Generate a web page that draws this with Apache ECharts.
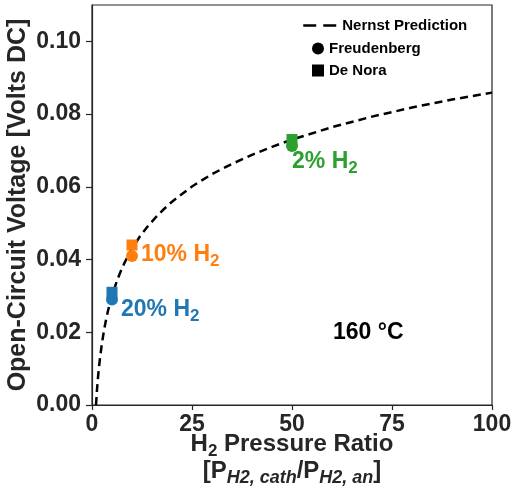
<!DOCTYPE html>
<html>
<head>
<meta charset="utf-8">
<script src="https://cdn.jsdelivr.net/npm/echarts@6/dist/echarts.min.js"></script>
<style>
  html, body { margin: 0; padding: 0; background: #fff; }
  #main { width: 511px; height: 495px; }
</style>
</head>
<body>
<div id="main"></div>
<script>
// Nernst prediction curve
const nernstX = [1, 1.25, 1.5, 1.75, 2, 2.5, 3, 3.5, 4, 4.5, 5, 6, 7, 8, 9, 10, 12, 14, 16, 18, 20,
  25, 30, 35, 40, 45, 50, 60, 70, 80, 90, 100];
const nernstY = [0, 0.0042, 0.0076, 0.0104, 0.0129, 0.0171, 0.0205, 0.0234, 0.0259, 0.0281, 0.0300,
  0.0334, 0.0363, 0.0388, 0.0410, 0.0430, 0.0464, 0.0492, 0.0517, 0.0539, 0.0559,
  0.0601, 0.0635, 0.0663, 0.0688, 0.0710, 0.0730, 0.0764, 0.0793, 0.0818, 0.0840, 0.0859];

// measured points
const ratios = [5, 10, 50];
const freudenberg = [0.029, 0.041, 0.0712];
const deNora = [0.031, 0.044, 0.073];
const pointColors = ['#1f77b4', '#ff7f0e', '#2ca02c'];
const pointLabels = ['20%', '10%', '2%'];

const textColor = '#262626';
const font = 'Liberation Sans, Arial, sans-serif';

const chart = echarts.init(document.getElementById('main'));

// label placement next to each point (offset in px)
const labelOffsets = [[-2, 10], [-2, -1], [-11, 16]];

function labelStyle(color) {
  return {
    t: { fontSize: 23, fontWeight: 'bold', fontFamily: font, color: color },
    s: { fontSize: 17, fontWeight: 'bold', fontFamily: font, color: color, padding: [13, 0, 0, 0] }
  };
}

chart.setOption({
  animation: false,
  grid: {
    left: 92, right: 19, top: 5, bottom: 90,
    outerBoundsMode: 'none',
    show: true, borderColor: textColor, borderWidth: 1.2, backgroundColor: 'transparent'
  },
  legend: [
    {
      top: 13,
      left: 297,
      itemWidth: 34,
      itemHeight: 14,
      itemGap: 5,
      itemTextGap: 12,
      textStyle: { fontSize: 15, fontWeight: 'bold', color: '#000', fontFamily: font },
      data: [{
        name: 'Nernst Prediction',
        itemStyle: { opacity: 0 },
        lineStyle: { type: [13, 7], width: 2.5 }
      }]
    },
    {
      orient: 'vertical',
      top: 36,
      left: 307,
      itemWidth: 12,
      itemHeight: 12,
      itemGap: 7,
      itemTextGap: 24,
      textStyle: { fontSize: 15, fontWeight: 'bold', color: '#000', fontFamily: font },
      data: [
        { name: 'Freudenberg', icon: 'circle' },
        { name: 'De Nora', icon: 'rect' }
      ]
    }
  ],
  xAxis: {
    type: 'value',
    min: 0, max: 100, interval: 25,
    splitLine: { show: false },
    axisLine: { lineStyle: { color: textColor, width: 1.2 } },
    axisTick: { show: true, length: 5, lineStyle: { color: textColor, width: 1.2 } },
    axisLabel: { fontSize: 23, fontWeight: 'bold', color: textColor, fontFamily: font, margin: 8 },
    name: '{t|H}{s|2}{t| Pressure Ratio}\n{t|[P}{si|H2, cath}{t|/P}{si|H2, an}{t|]}',
    nameLocation: 'middle',
    nameGap: 26,
    nameMoveOverlap: false,
    nameTextStyle: {
      color: textColor,
      lineHeight: 27,
      rich: {
        t: { fontSize: 24, fontWeight: 'bold', fontFamily: font, color: textColor },
        s: { fontSize: 17, fontWeight: 'bold', fontFamily: font, color: textColor, padding: [13, 0, 0, 0] },
        si: { fontSize: 18, fontWeight: 'bold', fontStyle: 'italic', fontFamily: font, color: textColor, padding: [13, 0, 0, 0] }
      }
    }
  },
  yAxis: {
    type: 'value',
    min: 0, max: 0.11, interval: 0.02,
    splitLine: { show: false },
    axisLine: { show: true, lineStyle: { color: textColor, width: 1.2 } },
    axisTick: { show: true, length: 6, lineStyle: { color: textColor, width: 1.2 } },
    axisLabel: {
      fontSize: 23, fontWeight: 'bold', color: textColor, fontFamily: font, margin: 11,
      showMaxLabel: false,
      formatter: v => v.toFixed(2)
    },
    name: 'Open-Circuit Voltage [Volts DC]',
    nameLocation: 'middle',
    nameRotate: 90,
    nameGap: 61,
    nameMoveOverlap: false,
    nameTextStyle: { fontSize: 25, fontWeight: 'bold', color: textColor, fontFamily: font }
  },
  series: [
    {
      name: 'Nernst Prediction',
      type: 'line',
      data: nernstX.map((x, i) => [x, nernstY[i]]),
      symbol: 'none',
      color: '#000',
      lineStyle: { color: '#000', width: 2.5, type: [8, 5] },
      z: 3
    },
    {
      name: 'De Nora',
      type: 'scatter',
      symbol: 'rect',
      symbolSize: 11,
      color: '#000',
      itemStyle: { opacity: 1 },
      data: ratios.map((x, i) => ({ value: [x, deNora[i]], itemStyle: { color: pointColors[i], opacity: 1 } })),
      z: 4
    },
    {
      name: 'Freudenberg',
      type: 'scatter',
      symbol: 'circle',
      symbolSize: 12,
      color: '#000',
      itemStyle: { opacity: 1 },
      data: ratios.map((x, i) => ({
        value: [x, freudenberg[i]],
        itemStyle: { color: pointColors[i], opacity: 1 },
        label: {
          show: true,
          position: 'right',
          offset: labelOffsets[i],
          formatter: '{t|' + pointLabels[i] + ' H}{s|2}',
          color: pointColors[i],
          rich: labelStyle(pointColors[i])
        }
      })),
      z: 5
    }
  ],
  graphic: [
    {
      type: 'text',
      left: 333,
      top: 321,
      style: { text: '160 °C', fill: '#000', font: 'bold 23px ' + font }
    }
  ]
});
</script>
</body>
</html>
